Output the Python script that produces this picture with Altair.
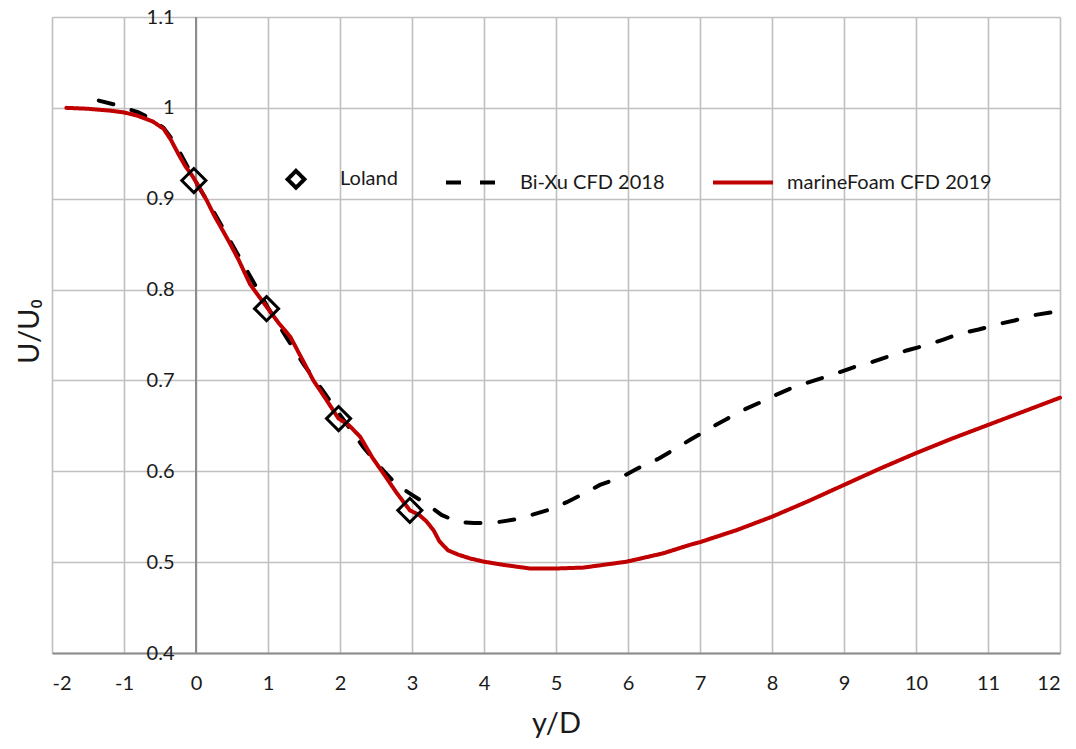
import altair as alt
import pandas as pd

# ---- data ----
series_names = ["Loland", "Bi-Xu CFD 2018", "marineFoam CFD 2019"]

loland_x = [-0.03, 0.98, 1.98, 2.97]
loland_y = [0.920, 0.779, 0.658, 0.557]

bixu_x = [-1.35, -1.1, -0.8, -0.6, -0.45, -0.3, -0.15, 0.0, 0.25, 0.5, 0.75, 1.0,
          1.25, 1.5, 1.75, 2.0, 2.32, 2.6, 2.79, 3.0, 3.2, 3.41, 3.64, 3.86, 4.11,
          4.43, 4.66, 4.92, 5.15, 5.4, 5.61, 5.92, 6.13, 6.43, 6.64, 6.87, 7.13,
          7.36, 7.59, 7.84, 8.08, 8.31, 8.67, 8.9, 9.15, 9.38, 9.64, 9.87, 10.15,
          10.38, 10.63, 10.87, 11.14, 11.37, 11.65, 11.88, 12.0]
bixu_y = [1.008, 1.003, 0.995, 0.987, 0.978, 0.962, 0.940, 0.918, 0.885, 0.850,
          0.815, 0.780, 0.748, 0.717, 0.690, 0.662, 0.627, 0.601, 0.585, 0.574,
          0.564, 0.552, 0.544, 0.543, 0.543, 0.547, 0.552, 0.558, 0.566, 0.576,
          0.585, 0.594, 0.603, 0.614, 0.624, 0.635, 0.647, 0.657, 0.667, 0.676,
          0.685, 0.693, 0.702, 0.708, 0.715, 0.720, 0.727, 0.733, 0.739, 0.745,
          0.752, 0.756, 0.762, 0.766, 0.772, 0.775, 0.778]

mf_x = [-1.8, -1.5, -1.2, -1.0, -0.8, -0.6, -0.45, -0.35, -0.25, -0.15, -0.05,
        0.05, 0.15, 0.25, 0.35, 0.47, 0.59, 0.75, 0.85, 1.0, 1.15, 1.31, 1.45,
        1.63, 1.8, 1.98, 2.12, 2.28, 2.45, 2.6, 2.78, 2.97, 3.1, 3.2, 3.3, 3.38,
        3.5, 3.65, 3.81, 4.0, 4.27, 4.64, 5.0, 5.38, 5.98, 6.49, 6.86, 7.0, 7.5,
        8.0, 8.5, 9.0, 9.5, 10.0, 10.5, 11.0, 11.5, 12.0]
mf_y = [1.000, 0.999, 0.997, 0.995, 0.991, 0.985, 0.977, 0.965, 0.950, 0.936,
        0.925, 0.912, 0.898, 0.882, 0.868, 0.851, 0.833, 0.806, 0.795, 0.779,
        0.763, 0.748, 0.727, 0.700, 0.680, 0.658, 0.651, 0.638, 0.615, 0.598,
        0.577, 0.557, 0.552, 0.545, 0.535, 0.523, 0.513, 0.508, 0.504, 0.5005,
        0.497, 0.493, 0.493, 0.494, 0.5005, 0.5097, 0.519, 0.522, 0.535, 0.550,
        0.567, 0.585, 0.603, 0.620, 0.636, 0.651, 0.666, 0.681]

x_ticks = list(range(-2, 13))
y_ticks = [0.4, 0.5, 0.6, 0.7, 0.8, 0.9, 1.0, 1.1]

pts = pd.DataFrame({"x": loland_x, "y": loland_y, "series": series_names[0]})
lines = pd.concat([
    pd.DataFrame({"x": bixu_x, "y": bixu_y, "series": series_names[1]}),
    pd.DataFrame({"x": mf_x, "y": mf_y, "series": series_names[2]}),
], ignore_index=True)

FONT = "Lato"
DIAMOND = "M0,-0.28L0.28,0L0,0.28L-0.28,0Z"
HLINE = "M-1,0L1,0"

color_scale = alt.Scale(domain=series_names, range=["#000000", "#000000", "#C00000"])
shape_scale = alt.Scale(domain=series_names, range=[DIAMOND, HLINE, HLINE])
dash_scale = alt.Scale(domain=series_names, range=[[1, 0], [15, 19], [1, 0]])

x_enc = alt.X("x:Q", scale=alt.Scale(domain=[-2, 12], nice=False),
              axis=alt.Axis(values=x_ticks, labelExpr="'' + datum.value",
                            title="y/D", grid=True, ticks=False,
                            domainColor="#8C8C8C", domainWidth=2,
                            labelPadding=20, titlePadding=16, titleFontSize=29,
                            titleFontWeight="normal", labelFontSize=20))
y_enc = alt.Y("y:Q", scale=alt.Scale(domain=[0.4, 1.1], nice=False, zero=False),
              axis=alt.Axis(values=y_ticks, format=".1~f", title="U/U₀", grid=True,
                            ticks=False, domain=False, labelPadding=-122,
                            labelFontSize=20, titleFontSize=29,
                            titleFontWeight="normal", titleX=-23, titleY=314,
                            titleAngle=270, titleBaseline="middle",
                            titleAlign="center"))

zero_rule = alt.Chart(pts).mark_rule(color="#8C8C8C", strokeWidth=2).encode(
    x=alt.datum(0)
)

line_layer = alt.Chart(lines).mark_line(strokeWidth=4, strokeCap="round").encode(
    x=x_enc, y=y_enc,
    color=alt.Color("series:N", scale=color_scale, title=None),
    strokeDash=alt.StrokeDash("series:N", scale=dash_scale, title=None),
    order=alt.Order("x:Q"),
)

point_layer = alt.Chart(pts).mark_point(filled=False, strokeWidth=3, size=7400,
                                         opacity=1).encode(
    x="x:Q", y="y:Q",
    color=alt.Color("series:N", scale=color_scale, title=None),
    shape=alt.Shape("series:N", scale=shape_scale, title=None),
)

chart = alt.layer(zero_rule, line_layer, point_layer).properties(
    width=1008, height=636,
    autosize=alt.AutoSizeParams(type="none"),
    padding={"left": 52, "top": 17, "right": 16, "bottom": 96},
    background="white",
).configure_view(stroke=None).configure_axis(
    gridColor="#C0C0C0", gridWidth=1.6, labelFont=FONT, titleFont=FONT,
    labelColor="#1a1a1a", titleColor="#1a1a1a",
).configure_legend(
    orient="none", legendX=212, legendY=130, direction="horizontal",
    labelFont=FONT, labelFontSize=20, labelColor="#1a1a1a", labelOffset=12,
    labelLimit=400, symbolSize=3600, symbolStrokeWidth=4, columnPadding=40,
    symbolFillColor="transparent",
)

chart.save("out.html", embed_options={"renderer": "svg", "actions": False})
